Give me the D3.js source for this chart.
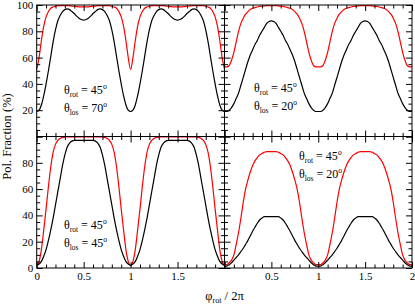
<!DOCTYPE html>
<html>
<head>
<style>
    body { margin: 0; background: #fff; }
    svg, svg text, svg tspan { font-family: "Liberation Serif", "DejaVu Serif", serif !important; }
    svg text { fill: #000; }
    .tick text { font-size: 11px; }
    .tick line { stroke: #000; }
</style>
<script src="https://d3js.org/d3.v7.min.js"></script>
</head>
<body>
<svg width="415" height="306"></svg>
<script>
// phi_rot / 2pi sample points
var phi = [0,0.025,0.05,0.075,0.1,0.125,0.15,0.175,0.2,0.225,0.25,0.275,0.3,0.325,0.35,0.375,0.4,0.425,0.45,0.475,
    0.5,0.525,0.55,0.575,0.6,0.625,0.65,0.675,0.7,0.725,0.75,0.775,0.8,0.825,0.85,0.875,0.9,0.925,0.95,0.975,
    1,1.025,1.05,1.075,1.1,1.125,1.15,1.175,1.2,1.225,1.25,1.275,1.3,1.325,1.35,1.375,1.4,1.425,1.45,1.475,
    1.5,1.525,1.55,1.575,1.6,1.625,1.65,1.675,1.7,1.725,1.75,1.775,1.8,1.825,1.85,1.875,1.9,1.925,1.95,1.975,2];

// theta_los = 70 (top left)
var tlBlack = [19,20,24,31,40,50,61,72,81,88,92,95,96.5,97,96.5,95,93.5,91.5,90,89,88.5,
    89,90,91.5,93.5,95,96.5,97,96.5,95,92,88,81,72,61,50,40,31,24,20,19,
    20,24,31,40,50,61,72,81,88,92,95,96.5,97,96.5,95,93.5,91.5,90,89,88.5,
    89,90,91.5,93.5,95,96.5,97,96.5,95,92,88,81,72,61,50,40,31,24,20,19];
var tlRed = [51,60,73,84,91,95,97.5,98.5,99,99.5,99.5,99.5,99.5,99.5,99.5,99.2,99,98.8,98.6,98.5,98.5,
    98.5,98.6,98.8,99,99.2,99.5,99.5,99.5,99.5,99.5,99.5,99,98.5,97.5,95,91,84,73,60,51,
    60,73,84,91,95,97.5,98.5,99,99.5,99.5,99.5,99.5,99.5,99.5,99.2,99,98.8,98.6,98.5,98.5,
    98.5,98.6,98.8,99,99.2,99.5,99.5,99.5,99.5,99.5,99.5,99,98.5,97.5,95,91,84,73,60,51];

// theta_los = 20 (top right)
var trBlack = [19,19,20,22,25,29,33,39,45,51,57,62,66,70,73,77,80,83,86,87.5,88,
    87.5,86,83,80,77,73,70,66,62,57,51,45,39,33,29,25,22,20,19,19,
    19,20,22,25,29,33,39,45,51,57,62,66,70,73,77,80,83,86,87.5,88,
    87.5,86,83,80,77,73,70,66,62,57,51,45,39,33,29,25,22,20,19,19];
var trRed = [53,53,54,58,64,72,80,86,90,93,95,96.5,97.5,98,98.5,99,99,99.3,99.5,99.5,99.5,
    99.5,99.5,99.3,99,99,98.5,98,97.5,96.5,95,93,90,86,80,72,64,58,54,53,53,
    53,54,58,64,72,80,86,90,93,95,96.5,97.5,98,98.5,99,99,99.3,99.5,99.5,99.5,
    99.5,99.5,99.3,99,99,98.5,98,97.5,96.5,95,93,90,86,80,72,64,58,54,53,53];

// theta_los = 45 (bottom left)
var blBlack = [2,3,5,9,14,21,29,38,48,58,68,78,86,92,95,96.5,97,97,97,97,97,
    97,97,97,97,96.5,95,92,86,78,68,58,48,38,29,21,14,9,5,3,2,
    3,5,9,14,21,29,38,48,58,68,78,86,92,95,96.5,97,97,97,97,97,
    97,97,97,97,96.5,95,92,86,78,68,58,48,38,29,21,14,9,5,3,2];
var blRed = [2,5,14,29,45,62,77,88,94,97,98.5,99.3,99.6,99.7,99.7,99.7,99.7,99.7,99.7,99.7,99.7,
    99.7,99.7,99.7,99.7,99.7,99.7,99.7,99.6,99.3,98.5,97,94,88,77,62,45,29,14,5,2,
    5,14,29,45,62,77,88,94,97,98.5,99.3,99.6,99.7,99.7,99.7,99.7,99.7,99.7,99.7,99.7,
    99.7,99.7,99.7,99.7,99.7,99.7,99.7,99.6,99.3,98.5,97,94,88,77,62,45,29,14,5,2];

// theta_los = 20 (bottom right)
var brBlack = [1.5,1.5,2.5,4,6,8,10,12.5,15,18,21,24.5,28,31,34,36.5,38,39,39,39,39,
    39,39,39,38,36.5,34,31,28,24.5,21,18,15,12.5,10,8,6,4,2.5,1.5,1.5,
    1.5,2.5,4,6,8,10,12.5,15,18,21,24.5,28,31,34,36.5,38,39,39,39,39,
    39,39,39,38,36.5,34,31,28,24.5,21,18,15,12.5,10,8,6,4,2.5,1.5,1.5];
var brRed = [2.5,2.5,4,6,10,18,27,38,50,60,67,73,78,81.5,84,86,87,88,88.5,88.5,88.5,
    88.5,88.5,88,87,86,84,81.5,78,73,67,60,50,38,27,18,10,6,4,2.5,2.5,
    2.5,4,6,10,18,27,38,50,60,67,73,78,81.5,84,86,87,88,88.5,88.5,88.5,
    88.5,88.5,88,87,86,84,81.5,78,73,67,60,50,38,27,18,10,6,4,2.5,2.5];

var xMajor = [0, 0.5, 1, 1.5, 2];
var xMinor = [0.1,0.2,0.3,0.4,0.6,0.7,0.8,0.9,1.1,1.2,1.3,1.4,1.6,1.7,1.8,1.9];
var yMajor = [0, 20, 40, 60, 80, 100];
var yMinor = [5,10,15,25,30,35,45,50,55,65,70,75,85,90,95];

var thetaRot = "45";
var serif = "'Liberation Serif', 'DejaVu Serif', serif";

var svg = d3.select("svg").attr("font-family", serif);
svg.append("rect").attr("width", 415).attr("height", 306).attr("fill", "#fff");

var xl = 36.7, xm = 224.5, xr = 412;
var yt = 5, ym = 136.5, yb = 268;

var panels = [
    {x0: xl, x1: xm, y0: yt, y1: ym, black: tlBlack, red: tlRed, los: "70", tx: 64, ty: 94,
     yLab: function(d) { return d == 0 ? "" : d; }, xLab: null},
    {x0: xm, x1: xr, y0: yt, y1: ym, black: trBlack, red: trRed, los: "20", tx: 254, ty: 92,
     yLab: null, xLab: null},
    {x0: xl, x1: xm, y0: ym, y1: yb, black: blBlack, red: blRed, los: "45", tx: 64, ty: 229,
     yLab: function(d) { return d == 100 ? "" : d; }, xLab: function(d) { return d == 2 ? "" : d; }},
    {x0: xm, x1: xr, y0: ym, y1: yb, black: brBlack, red: brRed, los: "20", tx: 299, ty: 160,
     yLab: null, xLab: function(d) { return d == 0 ? "" : d; }}
];

function addAxis(g, axis, tx, ty) {
    var a = g.append("g").attr("transform", "translate(" + tx + "," + ty + ")").call(axis);
    a.select(".domain").remove();
    a.attr("font-family", serif).attr("font-size", 11);
    return a;
}

panels.forEach(function(p) {
    var x = d3.scaleLinear().domain([0, 2]).range([p.x0, p.x1]);
    var y = d3.scaleLinear().domain([0, 100]).range([p.y1, p.y0]);
    var g = svg.append("g");

    // curves
    var line = d3.line()
        .x(function(d, i) { return x(phi[i]); })
        .y(function(d) { return y(d); })
        .curve(d3.curveMonotoneX);

    g.append("path").attr("d", line(p.red))
        .attr("fill", "none").attr("stroke", "#ff0000").attr("stroke-width", 1.2);
    g.append("path").attr("d", line(p.black))
        .attr("fill", "none").attr("stroke", "#000").attr("stroke-width", 1.2);

    // inward ticks on all four sides
    var sides = [
        [d3.axisBottom, 0, p.y1, x, xMajor, xMinor, p.xLab],
        [d3.axisTop, 0, p.y0, x, xMajor, xMinor, null],
        [d3.axisLeft, p.x0, 0, y, yMajor, yMinor, p.yLab],
        [d3.axisRight, p.x1, 0, y, yMajor, yMinor, null]
    ];
    sides.forEach(function(s) {
        var fmt = s[6] || function() { return ""; };
        addAxis(g, s[0](s[3]).tickValues(s[4]).tickSize(-6)
            .tickPadding(s[0] === d3.axisLeft ? 3.5 : 4.5).tickFormat(fmt), s[1], s[2]);
        addAxis(g, s[0](s[3]).tickValues(s[5]).tickSize(-3.5).tickFormat(""), s[1], s[2]);
    });

    g.append("rect")
        .attr("x", p.x0).attr("y", p.y0)
        .attr("width", p.x1 - p.x0).attr("height", p.y1 - p.y0)
        .attr("fill", "none").attr("stroke", "#000").attr("stroke-width", 1);

    // annotation
    var t1 = g.append("text").attr("x", p.tx).attr("y", p.ty).attr("font-family", serif).style("font-size", "12px");
    t1.append("tspan").text("θ");
    t1.append("tspan").text("rot").style("font-size", "7.5px").attr("dy", 2.5);
    t1.append("tspan").text(" = " + thetaRot).attr("dy", -2.5);
    t1.append("tspan").text("o").style("font-size", "7.5px").attr("dy", -5);

    var t2 = g.append("text").attr("x", p.tx).attr("y", p.ty + 18).attr("font-family", serif).style("font-size", "12px");
    t2.append("tspan").text("θ");
    t2.append("tspan").text("los").style("font-size", "7.5px").attr("dy", 2.5);
    t2.append("tspan").text(" = " + p.los).attr("dy", -2.5);
    t2.append("tspan").text("o").style("font-size", "7.5px").attr("dy", -5);
});

// axis titles
svg.append("text")
    .attr("transform", "translate(10.5," + ym + ") rotate(-90)")
    .attr("text-anchor", "middle")
    .attr("font-family", serif)
    .style("font-size", "12.5px")
    .text("Pol. Fraction (%)");

var xt = svg.append("text")
    .attr("x", xm).attr("y", 300)
    .attr("text-anchor", "middle")
    .attr("font-family", serif)
    .style("font-size", "12.5px");
xt.append("tspan").text("φ");
xt.append("tspan").text("rot").style("font-size", "8px").attr("dy", 3);
xt.append("tspan").text(" / 2π").attr("dy", -3);
</script>
</body>
</html>
